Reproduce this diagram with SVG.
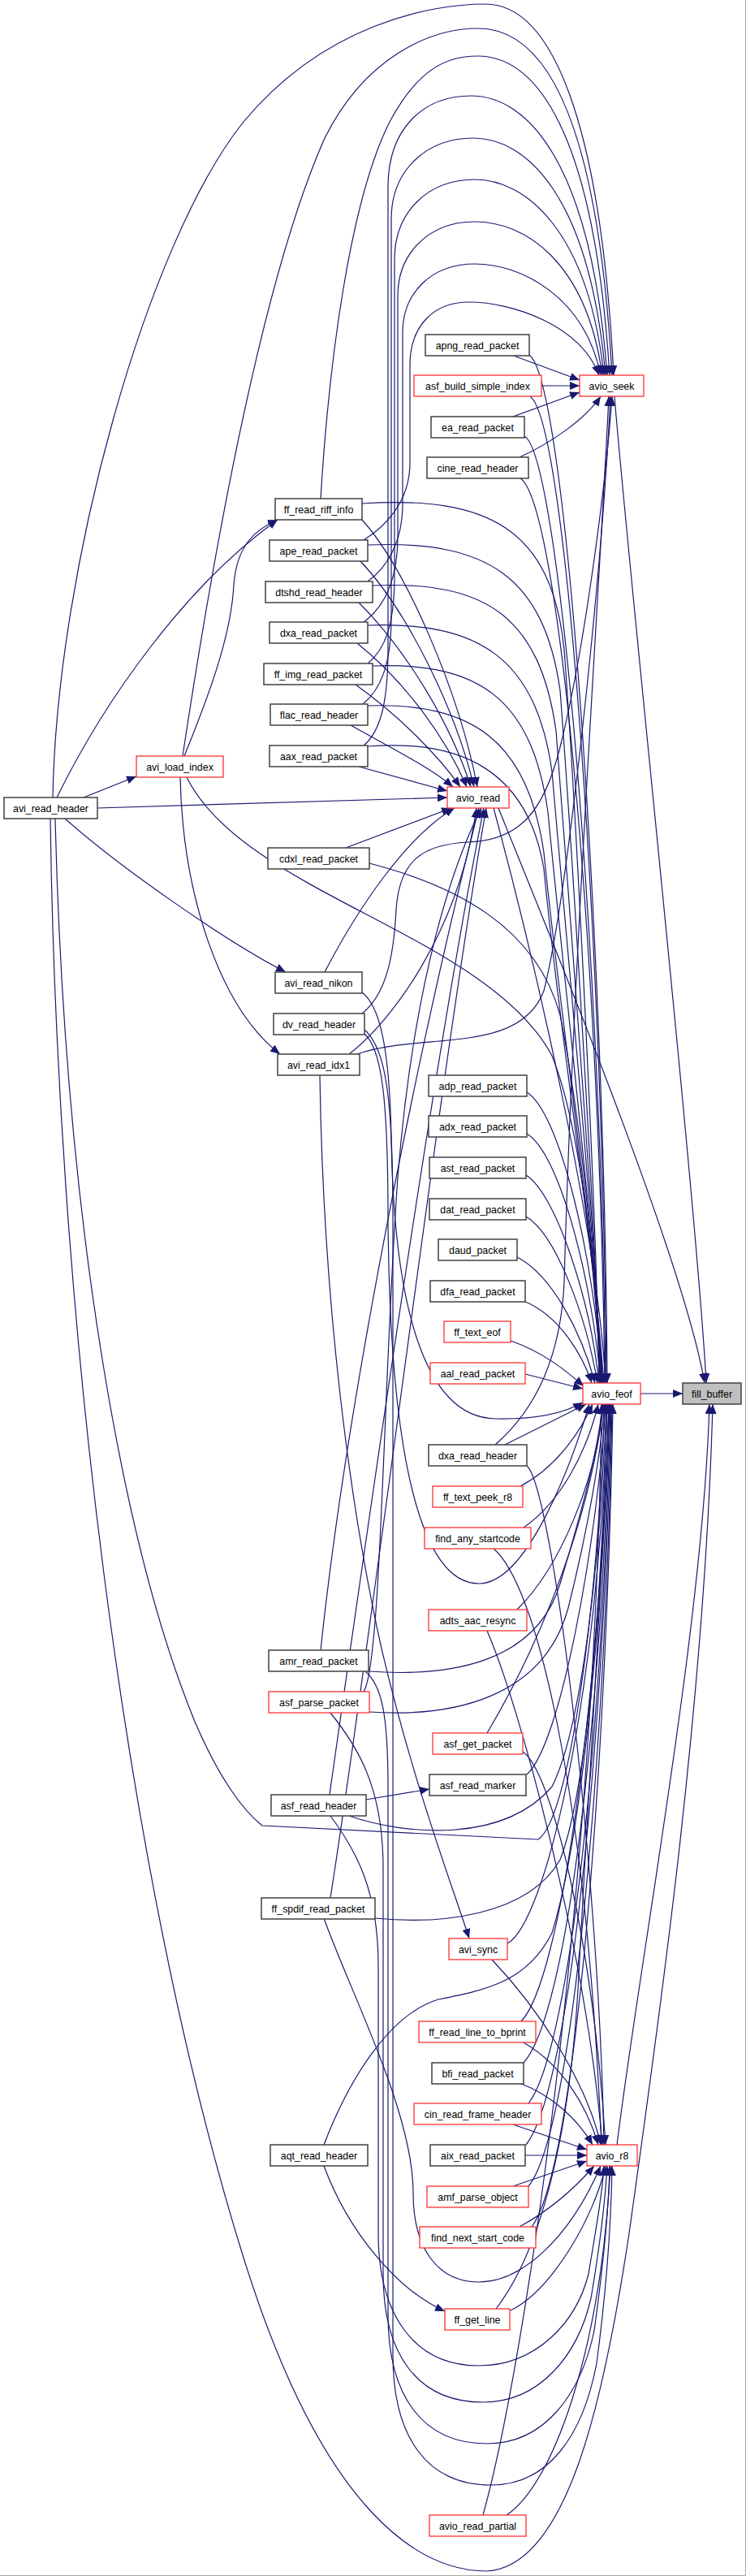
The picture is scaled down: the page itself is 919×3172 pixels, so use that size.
<svg xmlns="http://www.w3.org/2000/svg" width="919" height="3172" viewBox="0 0 919 3172">
<style>
.n rect{fill:#ffffff;stroke:#404040;stroke-width:1.5}
.r rect{fill:#ffffff;stroke:#ff3030;stroke-width:1.3}
.g rect{fill:#bfbfbf;stroke:#404040;stroke-width:1.5}
text{font-family:"Liberation Sans",Arial,sans-serif;font-size:12.4px;text-anchor:middle;fill:#000}
#edges path{fill:none;stroke:#191970;stroke-width:1.2;marker-end:url(#a)}
</style>
<defs>
<marker id="a" markerUnits="userSpaceOnUse" markerWidth="13" markerHeight="10" refX="12" refY="5" orient="auto"><path d="M0,0 L12,5 L0,10 z" fill="#191970"/></marker>
</defs>
<rect x="0" y="0" width="919" height="3172" fill="#ffffff"/>
<path d="M918.5,0 V3171.5 H0" fill="none" stroke="#a8a8a8" stroke-width="1"/>
<g id="edges">
<path d="M789,1716 L841,1716"/>
<path d="M757,488 C772,680 858,1480 870,1703"/>
<path d="M614,995 C660,1110 840,1540 868,1703"/>
<path d="M760,2641 C790,2400 866,2000 874,1729"/>
<path d="M62,1008 C70,1600 150,2300 300,2780 C400,3100 520,3166 600,3166 C700,3160 745,2950 775,2750 C810,2500 868,2100 878,1729"/>
<path d="M608,995 C650,1150 735,1500 746,1703"/>
<path d="M595,3097 C650,2900 735,2300 741,1729"/>
<path d="M624,3097 C680,3060 740,2900 752,2667"/>
<path d="M630,437 L714,468"/>
<path d="M667,475 L714,475"/>
<path d="M632,513 L714,483"/>
<path d="M640,563 C680,545 722,515 740,488"/>
<path d="M652,437 C700,470 745,1200 748,1703"/>
<path d="M653,488 C700,520 743,1200 747,1703"/>
<path d="M646,537 C690,560 741,1200 746,1703"/>
<path d="M641,589 C690,620 739,1200 745,1703"/>
<path d="M649,1345 C690,1370 732,1550 742,1703"/>
<path d="M649,1396 C690,1420 730,1580 740,1703"/>
<path d="M648,1447 C685,1470 727,1600 738,1703"/>
<path d="M648,1498 C685,1520 722,1620 736,1703"/>
<path d="M637,1548 C680,1570 716,1640 733,1703"/>
<path d="M645,1602 C690,1620 718,1670 729,1703"/>
<path d="M629,1651 C670,1665 700,1690 719,1707"/>
<path d="M647,1692 L718,1710"/>
<path d="M622,1779 L722,1729"/>
<path d="M610,1779 C655,1740 690,1680 695,1580 C705,1200 740,700 750,488"/>
<path d="M649,1805 C680,1830 738,2300 744,2641"/>
<path d="M641,1830 C680,1810 712,1770 730,1729"/>
<path d="M645,1881 C690,1850 722,1790 737,1729"/>
<path d="M608,1907 C660,1950 722,2200 741,2641"/>
<path d="M637,1982 C690,1930 736,1820 742,1729"/>
<path d="M600,2008 C640,2100 722,2400 742,2641"/>
<path d="M600,2134 C650,2050 722,1900 744,1729"/>
<path d="M644,2157 C680,2180 732,2400 746,2641"/>
<path d="M649,2185 C690,2150 736,1900 746,1729"/>
<path d="M625,2393 C670,2370 737,2100 748,1729"/>
<path d="M606,2413 C660,2470 722,2560 740,2641"/>
<path d="M642,2489 C690,2440 738,2100 750,1729"/>
<path d="M643,2514 C690,2540 722,2590 737,2641"/>
<path d="M645,2540 C700,2480 742,2100 751,1729"/>
<path d="M640,2565 C680,2580 712,2610 730,2641"/>
<path d="M651,2590 C705,2520 744,2100 752,1729"/>
<path d="M632,2616 L723,2647"/>
<path d="M648,2641 C705,2570 746,2100 753,1729"/>
<path d="M647,2654 L723,2654"/>
<path d="M651,2692 C710,2620 748,2100 754,1729"/>
<path d="M632,2692 L723,2661"/>
<path d="M640,2742 C680,2720 712,2690 732,2667"/>
<path d="M655,2742 C715,2660 749,2100 755,1729"/>
<path d="M629,2845 C680,2820 732,2730 746,2667"/>
<path d="M611,2843 C660,2780 700,2650 712,2450 C725,2200 745,1900 750,1729"/>
<path d="M65,982 C70,700 180,300 300,150 C400,30 530,5 598,5 C680,5 740,150 756,462"/>
<path d="M225,931 C260,700 320,350 400,170 C450,70 530,35 589,35 C670,35 736,140 754,462"/>
<path d="M395,614 C405,450 430,250 480,150 C515,85 550,69 588,69 C660,69 732,160 751,462"/>
<path d="M448,918 C470,900 478,860 478,800 L478,230 C478,160 520,118 580,118 C650,118 728,200 748,462"/>
<path d="M447,867 C468,850 482,820 482,760 L482,270 C482,210 525,170 583,170 C648,170 726,240 746,462"/>
<path d="M453,817 C474,800 486,770 486,710 L486,320 C486,260 528,221 585,221 C645,221 724,280 744,462"/>
<path d="M448,766 C470,750 490,720 490,660 L490,365 C490,310 530,273 585,273 C645,273 722,320 742,462"/>
<path d="M453,716 C475,700 496,670 496,620 L496,410 C496,360 532,325 585,325 C642,325 720,365 740,462"/>
<path d="M448,665 C472,650 505,620 505,570 L505,450 C505,400 535,372 578,372 C630,372 715,400 738,462"/>
<path d="M120,995 L551,982"/>
<path d="M446,640 C500,700 565,850 588,969"/>
<path d="M444,691 C500,750 560,870 584,969"/>
<path d="M442,742 C500,800 555,890 580,969"/>
<path d="M440,792 C500,840 550,910 575,969"/>
<path d="M438,843 C490,880 540,930 567,969"/>
<path d="M432,893 C480,920 530,945 558,969"/>
<path d="M442,944 L551,974"/>
<path d="M426,1044 L556,995"/>
<path d="M400,1197 C440,1120 500,1030 560,995"/>
<path d="M430,1298 C480,1260 565,1150 587,995"/>
<path d="M395,2032 C430,1700 525,1250 590,995"/>
<path d="M448,2083 C470,2050 472,1700 490,1450 C510,1200 560,1060 593,995"/>
<path d="M406,2210 C450,1900 535,1300 596,995"/>
<path d="M407,2337 C460,2000 545,1300 599,995"/>
<path d="M446,620 C600,610 680,650 695,800 C710,1000 735,1500 738,1703"/>
<path d="M453,671 C600,665 670,710 690,850 C705,1050 733,1500 739,1703"/>
<path d="M459,721 C600,715 665,760 685,900 C700,1100 732,1500 740,1703"/>
<path d="M453,770 C590,765 660,810 680,950 C697,1150 731,1500 741,1703"/>
<path d="M459,820 C590,815 655,860 675,1000 C694,1200 730,1500 742,1703"/>
<path d="M452,869 C580,865 650,910 670,1050 C690,1250 729,1500 743,1703"/>
<path d="M453,919 C570,910 650,950 670,1070 C690,1280 728,1500 744,1703"/>
<path d="M455,1063 C560,1090 660,1140 690,1250 C720,1400 735,1600 742,1703"/>
<path d="M230,957 C300,1100 600,1150 680,1300 C720,1400 735,1600 740,1703"/>
<path d="M446,1222 C470,1240 480,1300 482,1400 C485,1600 520,1745 610,1747 C660,1748 695,1740 718,1727"/>
<path d="M448,1272 C470,1290 478,1350 478,1500 C480,1800 520,1950 590,1950 C650,1950 705,1800 726,1729"/>
<path d="M454,2058 C550,2065 660,2050 690,1950 C720,1850 738,1780 742,1729"/>
<path d="M455,2108 C560,2115 670,2090 700,1980 C725,1880 740,1790 745,1729"/>
<path d="M430,2236 C500,2260 620,2270 680,2200 C720,2120 740,1900 747,1729"/>
<path d="M462,2362 C540,2370 650,2360 690,2290 C725,2200 742,1950 748,1729"/>
<path d="M399,2641 C430,2560 480,2480 540,2462 C600,2450 650,2440 680,2380 C720,2250 745,1950 750,1729"/>
<path d="M68,1008 C80,1500 150,1900 240,2120 C270,2190 300,2230 323,2248 L663,2265 C700,2240 735,2000 745,1729"/>
<path d="M103,982 L168,956"/>
<path d="M70,982 C130,860 230,720 342,640"/>
<path d="M227,931 C260,850 285,780 288,720 C292,670 315,652 342,640"/>
<path d="M80,1008 C150,1070 280,1160 352,1197"/>
<path d="M222,957 C225,1100 270,1240 345,1298"/>
<path d="M394,1324 C398,1600 430,1850 470,2030 C510,2200 560,2330 578,2387"/>
<path d="M440,1298 C520,1270 640,1300 670,1220 C700,1100 742,700 752,488"/>
<path d="M446,1248 C475,1225 485,1180 488,1120 C492,1060 520,1040 576,1037 C640,1035 670,1000 690,920 C720,800 746,600 754,488"/>
<path d="M451,2216 L529,2203"/>
<path d="M399,2667 C430,2750 490,2820 548,2846"/>
<path d="M399,2362 C430,2450 509,2600 509,2700 C509,2770 540,2810 590,2810 C640,2810 700,2760 740,2667"/>
<path d="M407,2236 C440,2280 466,2330 466,2420 L466,2750 C466,2850 510,2913 590,2913 C660,2913 710,2860 725,2800 C735,2740 742,2700 744,2667"/>
<path d="M407,2109 C440,2150 472,2200 472,2300 L472,2800 C472,2900 515,2958 595,2958 C665,2958 712,2900 728,2830 C740,2760 746,2700 748,2667"/>
<path d="M450,2058 C470,2075 478,2110 478,2200 L478,2850 C478,2950 520,3009 600,3009 C670,3009 715,2950 732,2870 C743,2790 750,2720 751,2667"/>
<path d="M449,1268 C475,1290 484,1350 484,1500 L484,2900 C484,3000 525,3060 605,3060 C675,3060 718,3000 735,2910 C747,2820 753,2730 754,2667"/>
</g>
<g id="node-fill_buffer" class="g"><rect x="841" y="1703" width="72" height="26"/><text x="877" y="1720.5">fill_buffer</text></g>
<g id="node-avio_seek" class="r"><rect x="714" y="462" width="79" height="26"/><text x="753.5" y="479.5">avio_seek</text></g>
<g id="node-avio_feof" class="r"><rect x="718" y="1703" width="71" height="26"/><text x="753.5" y="1720.5">avio_feof</text></g>
<g id="node-avio_r8" class="r"><rect x="723" y="2641" width="62" height="26"/><text x="754" y="2658.5">avio_r8</text></g>
<g id="node-avio_read" class="r"><rect x="551" y="969" width="76" height="26"/><text x="589" y="986.5">avio_read</text></g>
<g id="node-avi_read_header" class="n"><rect x="5" y="982" width="115" height="26"/><text x="62.5" y="999.5">avi_read_header</text></g>
<g id="node-avi_load_index" class="r"><rect x="168" y="931" width="107" height="26"/><text x="221.5" y="948.5">avi_load_index</text></g>
<g id="node-ff_read_riff_info" class="n"><rect x="339" y="614" width="107" height="26"/><text x="392.5" y="631.5">ff_read_riff_info</text></g>
<g id="node-ape_read_packet" class="n"><rect x="332" y="665" width="121" height="26"/><text x="392.5" y="682.5">ape_read_packet</text></g>
<g id="node-dtshd_read_header" class="n"><rect x="327" y="716" width="132" height="26"/><text x="393" y="733.5">dtshd_read_header</text></g>
<g id="node-dxa_read_packet" class="n"><rect x="332" y="766" width="121" height="26"/><text x="392.5" y="783.5">dxa_read_packet</text></g>
<g id="node-ff_img_read_packet" class="n"><rect x="325" y="817" width="134" height="26"/><text x="392" y="834.5">ff_img_read_packet</text></g>
<g id="node-flac_read_header" class="n"><rect x="333" y="867" width="120" height="26"/><text x="393" y="884.5">flac_read_header</text></g>
<g id="node-aax_read_packet" class="n"><rect x="332" y="918" width="121" height="26"/><text x="392.5" y="935.5">aax_read_packet</text></g>
<g id="node-cdxl_read_packet" class="n"><rect x="330" y="1044" width="125" height="26"/><text x="392.5" y="1061.5">cdxl_read_packet</text></g>
<g id="node-avi_read_nikon" class="n"><rect x="339" y="1197" width="107" height="26"/><text x="392.5" y="1214.5">avi_read_nikon</text></g>
<g id="node-dv_read_header" class="n"><rect x="337" y="1248" width="112" height="26"/><text x="393" y="1265.5">dv_read_header</text></g>
<g id="node-avi_read_idx1" class="n"><rect x="342" y="1298" width="101" height="26"/><text x="392.5" y="1315.5">avi_read_idx1</text></g>
<g id="node-amr_read_packet" class="n"><rect x="331" y="2032" width="123" height="26"/><text x="392.5" y="2049.5">amr_read_packet</text></g>
<g id="node-asf_parse_packet" class="r"><rect x="331" y="2083" width="124" height="26"/><text x="393" y="2100.5">asf_parse_packet</text></g>
<g id="node-asf_read_header" class="n"><rect x="334" y="2210" width="117" height="26"/><text x="392.5" y="2227.5">asf_read_header</text></g>
<g id="node-ff_spdif_read_packet" class="n"><rect x="322" y="2337" width="140" height="26"/><text x="392" y="2354.5">ff_spdif_read_packet</text></g>
<g id="node-aqt_read_header" class="n"><rect x="333" y="2641" width="120" height="26"/><text x="393" y="2658.5">aqt_read_header</text></g>
<g id="node-apng_read_packet" class="n"><rect x="524" y="412" width="128" height="26"/><text x="588" y="429.5">apng_read_packet</text></g>
<g id="node-asf_build_simple_index" class="r"><rect x="510" y="462" width="157" height="26"/><text x="588.5" y="479.5">asf_build_simple_index</text></g>
<g id="node-ea_read_packet" class="n"><rect x="531" y="513" width="115" height="26"/><text x="588.5" y="530.5">ea_read_packet</text></g>
<g id="node-cine_read_header" class="n"><rect x="526" y="563" width="125" height="26"/><text x="588.5" y="580.5">cine_read_header</text></g>
<g id="node-adp_read_packet" class="n"><rect x="528" y="1324" width="121" height="26"/><text x="588.5" y="1341.5">adp_read_packet</text></g>
<g id="node-adx_read_packet" class="n"><rect x="528" y="1374" width="121" height="26"/><text x="588.5" y="1391.5">adx_read_packet</text></g>
<g id="node-ast_read_packet" class="n"><rect x="529" y="1425" width="119" height="26"/><text x="588.5" y="1442.5">ast_read_packet</text></g>
<g id="node-dat_read_packet" class="n"><rect x="529" y="1476" width="119" height="26"/><text x="588.5" y="1493.5">dat_read_packet</text></g>
<g id="node-daud_packet" class="n"><rect x="540" y="1526" width="97" height="26"/><text x="588.5" y="1543.5">daud_packet</text></g>
<g id="node-dfa_read_packet" class="n"><rect x="530" y="1577" width="117" height="26"/><text x="588.5" y="1594.5">dfa_read_packet</text></g>
<g id="node-ff_text_eof" class="r"><rect x="547" y="1627" width="82" height="26"/><text x="588" y="1644.5">ff_text_eof</text></g>
<g id="node-aal_read_packet" class="r"><rect x="530" y="1678" width="117" height="26"/><text x="588.5" y="1695.5">aal_read_packet</text></g>
<g id="node-dxa_read_header" class="n"><rect x="528" y="1779" width="121" height="26"/><text x="588.5" y="1796.5">dxa_read_header</text></g>
<g id="node-ff_text_peek_r8" class="r"><rect x="533" y="1830" width="111" height="26"/><text x="588.5" y="1847.5">ff_text_peek_r8</text></g>
<g id="node-find_any_startcode" class="r"><rect x="523" y="1881" width="131" height="26"/><text x="588.5" y="1898.5">find_any_startcode</text></g>
<g id="node-adts_aac_resync" class="r"><rect x="528" y="1982" width="121" height="26"/><text x="588.5" y="1999.5">adts_aac_resync</text></g>
<g id="node-asf_get_packet" class="r"><rect x="533" y="2134" width="111" height="26"/><text x="588.5" y="2151.5">asf_get_packet</text></g>
<g id="node-asf_read_marker" class="n"><rect x="529" y="2185" width="119" height="26"/><text x="588.5" y="2202.5">asf_read_marker</text></g>
<g id="node-avi_sync" class="r"><rect x="553" y="2387" width="72" height="26"/><text x="589" y="2404.5">avi_sync</text></g>
<g id="node-ff_read_line_to_bprint" class="r"><rect x="516" y="2489" width="144" height="26"/><text x="588" y="2506.5">ff_read_line_to_bprint</text></g>
<g id="node-bfi_read_packet" class="n"><rect x="532" y="2540" width="113" height="26"/><text x="588.5" y="2557.5">bfi_read_packet</text></g>
<g id="node-cin_read_frame_header" class="r"><rect x="510" y="2590" width="157" height="26"/><text x="588.5" y="2607.5">cin_read_frame_header</text></g>
<g id="node-aix_read_packet" class="n"><rect x="530" y="2641" width="117" height="26"/><text x="588.5" y="2658.5">aix_read_packet</text></g>
<g id="node-amf_parse_object" class="r"><rect x="526" y="2692" width="125" height="26"/><text x="588.5" y="2709.5">amf_parse_object</text></g>
<g id="node-find_next_start_code" class="r"><rect x="517" y="2742" width="143" height="26"/><text x="588.5" y="2759.5">find_next_start_code</text></g>
<g id="node-ff_get_line" class="r"><rect x="548" y="2843" width="80" height="26"/><text x="588" y="2860.5">ff_get_line</text></g>
<g id="node-avio_read_partial" class="r"><rect x="529" y="3097" width="119" height="26"/><text x="588.5" y="3114.5">avio_read_partial</text></g>
</svg>
